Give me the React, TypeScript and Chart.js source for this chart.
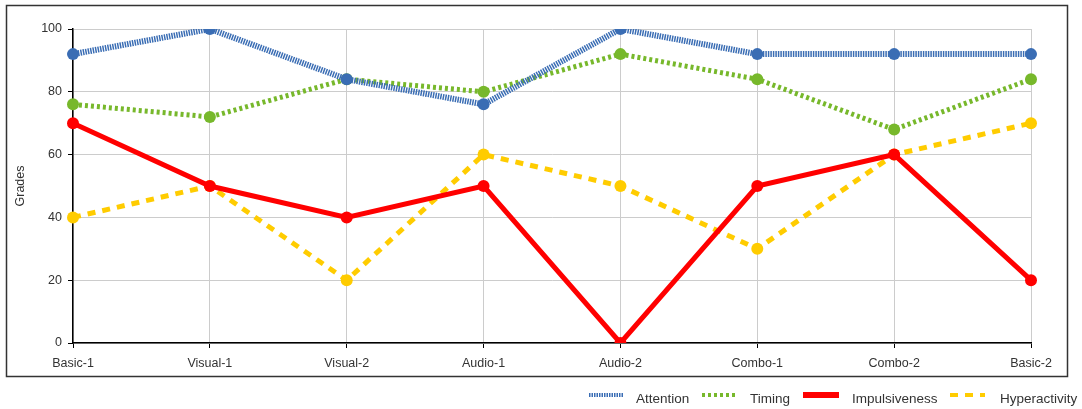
import React, { useEffect, useRef } from "react";
import { Chart, registerables } from "chart.js";

Chart.register(...registerables);

const categories = ["Basic-1", "Visual-1", "Visual-2", "Audio-1", "Audio-2", "Combo-1", "Combo-2", "Basic-2"];
const attention = [92, 100, 84, 76, 100, 92, 92, 92];
const timing = [76, 72, 84, 80, 92, 84, 68, 84];
const impulsiveness = [70, 50, 40, 50, 0, 50, 60, 20];
const hyperactivity = [40, 50, 20, 60, 50, 30, 60, 70];
const yTicks = [0, 20, 40, 60, 80, 100];

const FONT = "'Liberation Sans', Arial, sans-serif";

const seriesStyles = [
  { label: "Attention", color: "#3a6db4", dash: [1.5, 1], width: 6 },
  { label: "Timing", color: "#77b82b", dash: [3, 3], width: 5 },
  { label: "Impulsiveness", color: "#ff0000", dash: [], width: 5 },
  { label: "Hyperactivity", color: "#ffcc00", dash: [8, 7], width: 5 },
];

const legendPos = [
  { sx: 589, ex: 623, tx: 636 },
  { sx: 702, ex: 737, tx: 750 },
  { sx: 803, ex: 839, tx: 852 },
  { sx: 950, ex: 985, tx: 1000 },
];

const framePlugin = {
  id: "frameLegend",
  afterDraw(chart: any) {
    const ctx = chart.ctx;
    ctx.save();
    ctx.strokeStyle = "#333333";
    ctx.lineWidth = 1.5;
    ctx.setLineDash([]);
    ctx.strokeRect(6.5, 5.5, 1061, 371);
    // legend
    ctx.font = "13.5px " + FONT;
    ctx.textBaseline = "middle";
    ctx.fillStyle = "#333333";
    seriesStyles.forEach((s, i) => {
      const p = legendPos[i];
      ctx.beginPath();
      ctx.strokeStyle = s.color;
      ctx.lineWidth = i === 2 ? 6 : 4;
      ctx.setLineDash(s.dash);
      ctx.moveTo(p.sx, 395);
      ctx.lineTo(p.ex, 395);
      ctx.stroke();
      ctx.setLineDash([]);
      ctx.fillText(s.label, p.tx, 399);
    });
    ctx.restore();
  },
};

export default function App() {
  const ref = useRef<HTMLCanvasElement>(null);
  useEffect(() => {
    if (!ref.current) return;
    const datasets = [attention, timing, impulsiveness, hyperactivity].map((d, i) => ({
      label: seriesStyles[i].label,
      data: d,
      borderColor: seriesStyles[i].color,
      backgroundColor: seriesStyles[i].color,
      borderWidth: seriesStyles[i].width,
      borderDash: seriesStyles[i].dash,
      pointRadius: 6,
      pointHoverRadius: 6,
      pointBorderWidth: 0,
      pointBackgroundColor: seriesStyles[i].color,
      tension: 0,
      fill: false,
    }));
    const chart = new Chart(ref.current, {
      type: "line",
      data: { labels: categories, datasets },
      plugins: [framePlugin],
      options: {
        animation: false,
        responsive: false,
        layout: { padding: { left: 0, top: 29, right: 51, bottom: 36 } },
        plugins: { legend: { display: false }, tooltip: { enabled: false } },
        scales: {
          x: {
            grid: { color: "#cccccc", lineWidth: 1, tickLength: 5, tickColor: "#000000" },
            border: { color: "#000000", width: 1.5 },
            ticks: { color: "#333333", font: { family: FONT, size: 12.5 }, padding: 8, maxRotation: 0 },
            afterFit: (s: any) => { s.height = 30; },
          },
          y: {
            min: 0,
            max: 100,
            afterBuildTicks: (s: any) => { s.ticks = yTicks.map((v) => ({ value: v })); },
            grid: { color: "#cccccc", lineWidth: 1, tickLength: 5, tickColor: "#000000" },
            border: { color: "#000000", width: 1.5 },
            ticks: { color: "#333333", font: { family: FONT, size: 12.5 }, padding: 6 },
            title: { display: true, text: "Grades", color: "#333333", font: { family: FONT, size: 12.5 }, padding: { top: 13, bottom: 0 } },
            afterFit: (s: any) => { s.width = 73; },
          },
        },
      },
    });
    return () => chart.destroy();
  }, []);
  return (
    <div style={{ position: "absolute", left: 0, top: 0, width: 1082, height: 409 }}>
      <canvas ref={ref} width={1082} height={409} style={{ display: "block" }} />
    </div>
  );
}
